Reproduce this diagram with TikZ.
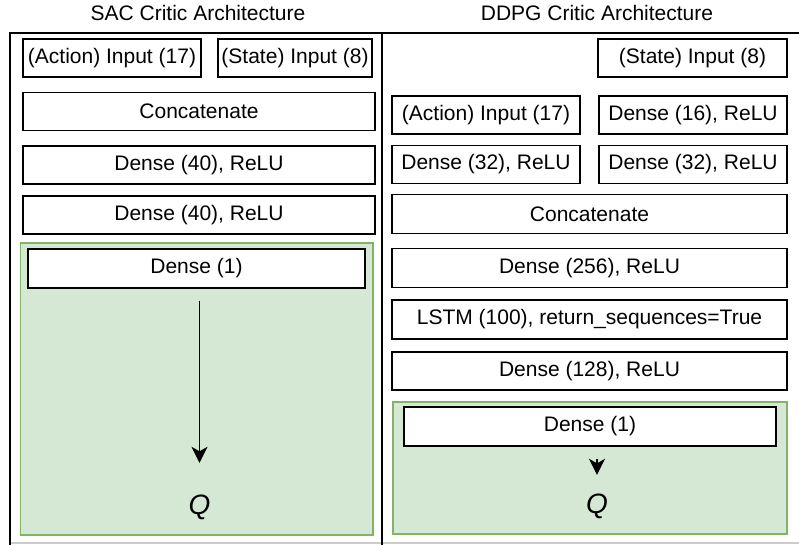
\documentclass[tikz,border=0pt]{standalone}
\usepackage{fontspec}
\setmainfont{Liberation Sans}
\usetikzlibrary{arrows.meta}
\definecolor{gfill}{HTML}{D5E8D4}
\definecolor{gdraw}{HTML}{82B366}
\tikzset{
  layer/.style={draw=black, line width=1.6pt, fill=white, inner sep=0pt,
    font=\fontsize{21}{24}\selectfont, minimum height=38pt},
  greenbox/.style={draw=gdraw, line width=1.6pt, fill=gfill},
  frameline/.style={draw=black, line width=1.6pt},
  titletext/.style={inner sep=0pt, font=\fontsize{21}{24}\selectfont},
  qlab/.style={inner sep=0pt, font=\fontsize{28}{30}\selectfont\itshape, text height=20pt, text depth=0pt, anchor=base},
  arr/.style={line width=1.5pt, -{Stealth[length=16pt,width=16pt,inset=4.5pt]}}
}
\begin{document}
\begin{tikzpicture}[x=1pt,y=-1pt]
\useasboundingbox (0,0) rectangle (799,545);
% frame
\draw[gray!40, line width=1.4pt] (10,543) -- (799,543);
\draw[frameline] (799,33) -- (10,33) -- (10,545);
\draw[frameline] (382,33) -- (382,545);
% titles
\node[titletext] (t1) at (198,13) {SAC Critic Architecture};
\node[titletext] (t2) at (597,13) {DDPG Critic Architecture};
% left column
\node[layer, minimum width=178pt] (la) at (112,58) {(Action) Input (17)};
\node[layer, minimum width=154pt] (ls) at (295,58) {(State) Input (8)};
\node[layer, minimum width=352pt] (lc) at (199,111.5) {Concatenate};
\node[layer, minimum width=352pt] (ld1) at (199,165) {Dense (40), ReLU};
\node[layer, minimum width=352pt] (ld2) at (199,215) {Dense (40), ReLU};
\draw[greenbox] (20.5,243) rectangle (373,535);
\node[layer, minimum width=337pt, minimum height=39pt] (ldo) at (196.5,268.5) {Dense (1)};
\node[qlab] (lq) at (199.5,514) {Q};
\draw[arr, shorten <=12pt, shorten >=31pt] (ldo.south -| lq.north) -- (lq.north);
% right column
\node[layer, minimum width=189pt] (rs) at (692.5,58) {(State) Input (8)};
\node[layer, minimum width=188pt] (ra) at (486,115) {(Action) Input (17)};
\node[layer, minimum width=188pt] (rd16) at (693,115) {Dense (16), ReLU};
\node[layer, minimum width=188pt] (rd32a) at (486,164.5) {Dense (32), ReLU};
\node[layer, minimum width=188pt] (rd32b) at (693,164.5) {Dense (32), ReLU};
\node[layer, minimum width=395pt, minimum height=39pt] (rc) at (589.5,214) {Concatenate};
\node[layer, minimum width=395pt, minimum height=39pt] (rd256) at (589.5,268) {Dense (256), ReLU};
\node[layer, minimum width=395pt, minimum height=39pt] (rl) at (589.5,319.5) {LSTM (100), return\_sequences=True};
\node[layer, minimum width=395pt] (rd128) at (589.5,371) {Dense (128), ReLU};
\draw[greenbox] (393,402) rectangle (787,534);
\node[layer, minimum width=372pt, minimum height=39pt] (rdo) at (590,426.5) {Dense (1)};
\node[qlab] (rq) at (597,513) {Q};
\draw[arr, shorten <=12pt, shorten >=18pt] (rdo.south -| rq.north) -- (rq.north);
\end{tikzpicture}
\end{document}
